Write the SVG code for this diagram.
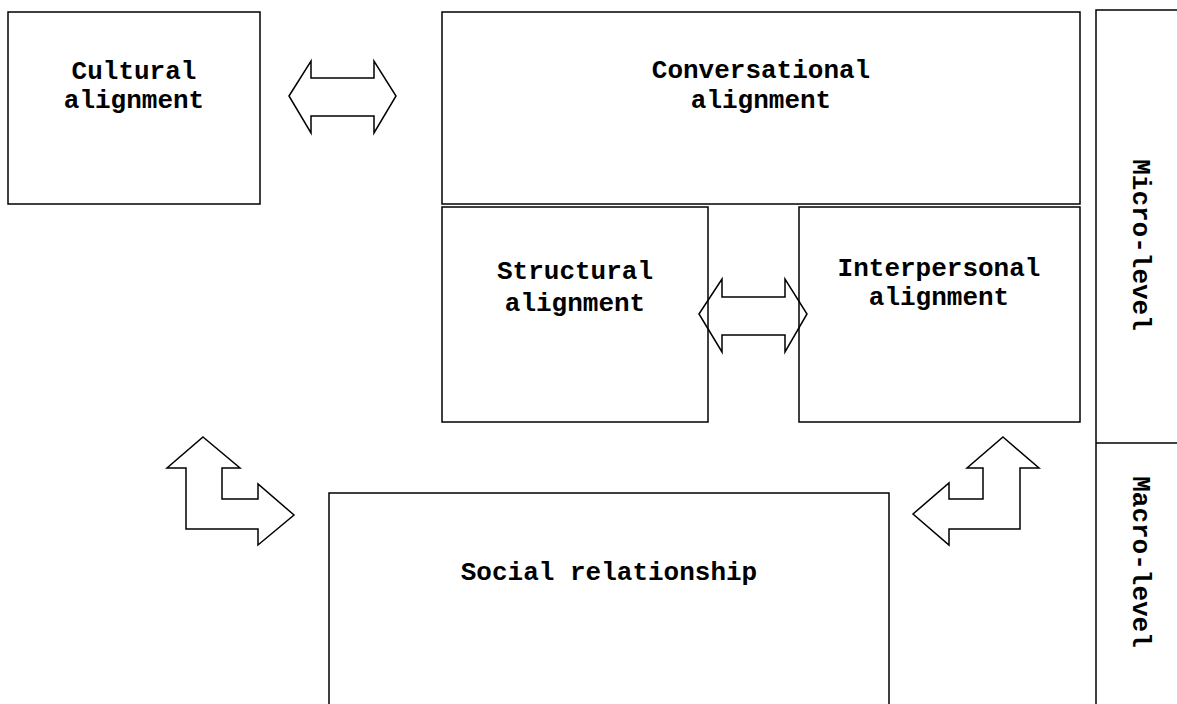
<svg xmlns="http://www.w3.org/2000/svg" width="1177" height="704" viewBox="0 0 1177 704">
<style>
.box{fill:none;stroke:#000;stroke-width:1.5}
.arr{fill:none;stroke:#000;stroke-width:1.5;stroke-linejoin:miter}
.t{font-family:"Liberation Mono","Courier New",monospace;font-weight:bold;font-size:26px;fill:#000;text-anchor:middle}
</style>
<rect width="1177" height="704" fill="#fff"/>
<g id="cultural">
<rect class="box" x="8" y="12" width="252" height="192"/>
<text class="t" x="134" y="79">Cultural</text>
<text class="t" x="134" y="108">alignment</text>
</g>
<g id="conversational">
<rect class="box" x="442" y="12" width="638" height="192"/>
<text class="t" x="761" y="78">Conversational</text>
<text class="t" x="761" y="108">alignment</text>
</g>
<g id="structural">
<rect class="box" x="442" y="207" width="266" height="215"/>
<text class="t" x="575" y="279">Structural</text>
<text class="t" x="575" y="311">alignment</text>
</g>
<g id="interpersonal">
<rect class="box" x="799" y="207" width="281" height="215"/>
<text class="t" x="939" y="276">Interpersonal</text>
<text class="t" x="939" y="305">alignment</text>
</g>
<g id="social">
<rect class="box" x="329" y="493" width="560" height="230"/>
<text class="t" x="609" y="580">Social relationship</text>
</g>
<g id="levels">
<rect class="box" x="1096" y="10" width="100" height="720"/>
<line x1="1096" y1="443" x2="1177" y2="443" stroke="#000" stroke-width="1.5"/>
<text class="t" transform="translate(1133,245) rotate(90)">Micro-level</text>
<text class="t" transform="translate(1133,562) rotate(90)">Macro-level</text>
</g>
<g id="connectors">
<polygon class="arr" points="289,96 311,61 311,78 374,78 374,61 396,96 374,133 374,116 311,116 311,133"/>
<polygon class="arr" points="699,314 722,279 722,297 785,297 785,279 807,314 785,352 785,335 722,335 722,352"/>
<polygon class="arr" points="203,437 240,468 222,468 222,499 258,499 258,484 294,515 258,545 258,529 186,529 186,468 167,468"/>
<polygon class="arr" points="1003,437 1039,468 1020,468 1020,529 949,529 949,545 913,514 949,483 949,499 983,499 983,468 967,468"/>
</g>
</svg>
